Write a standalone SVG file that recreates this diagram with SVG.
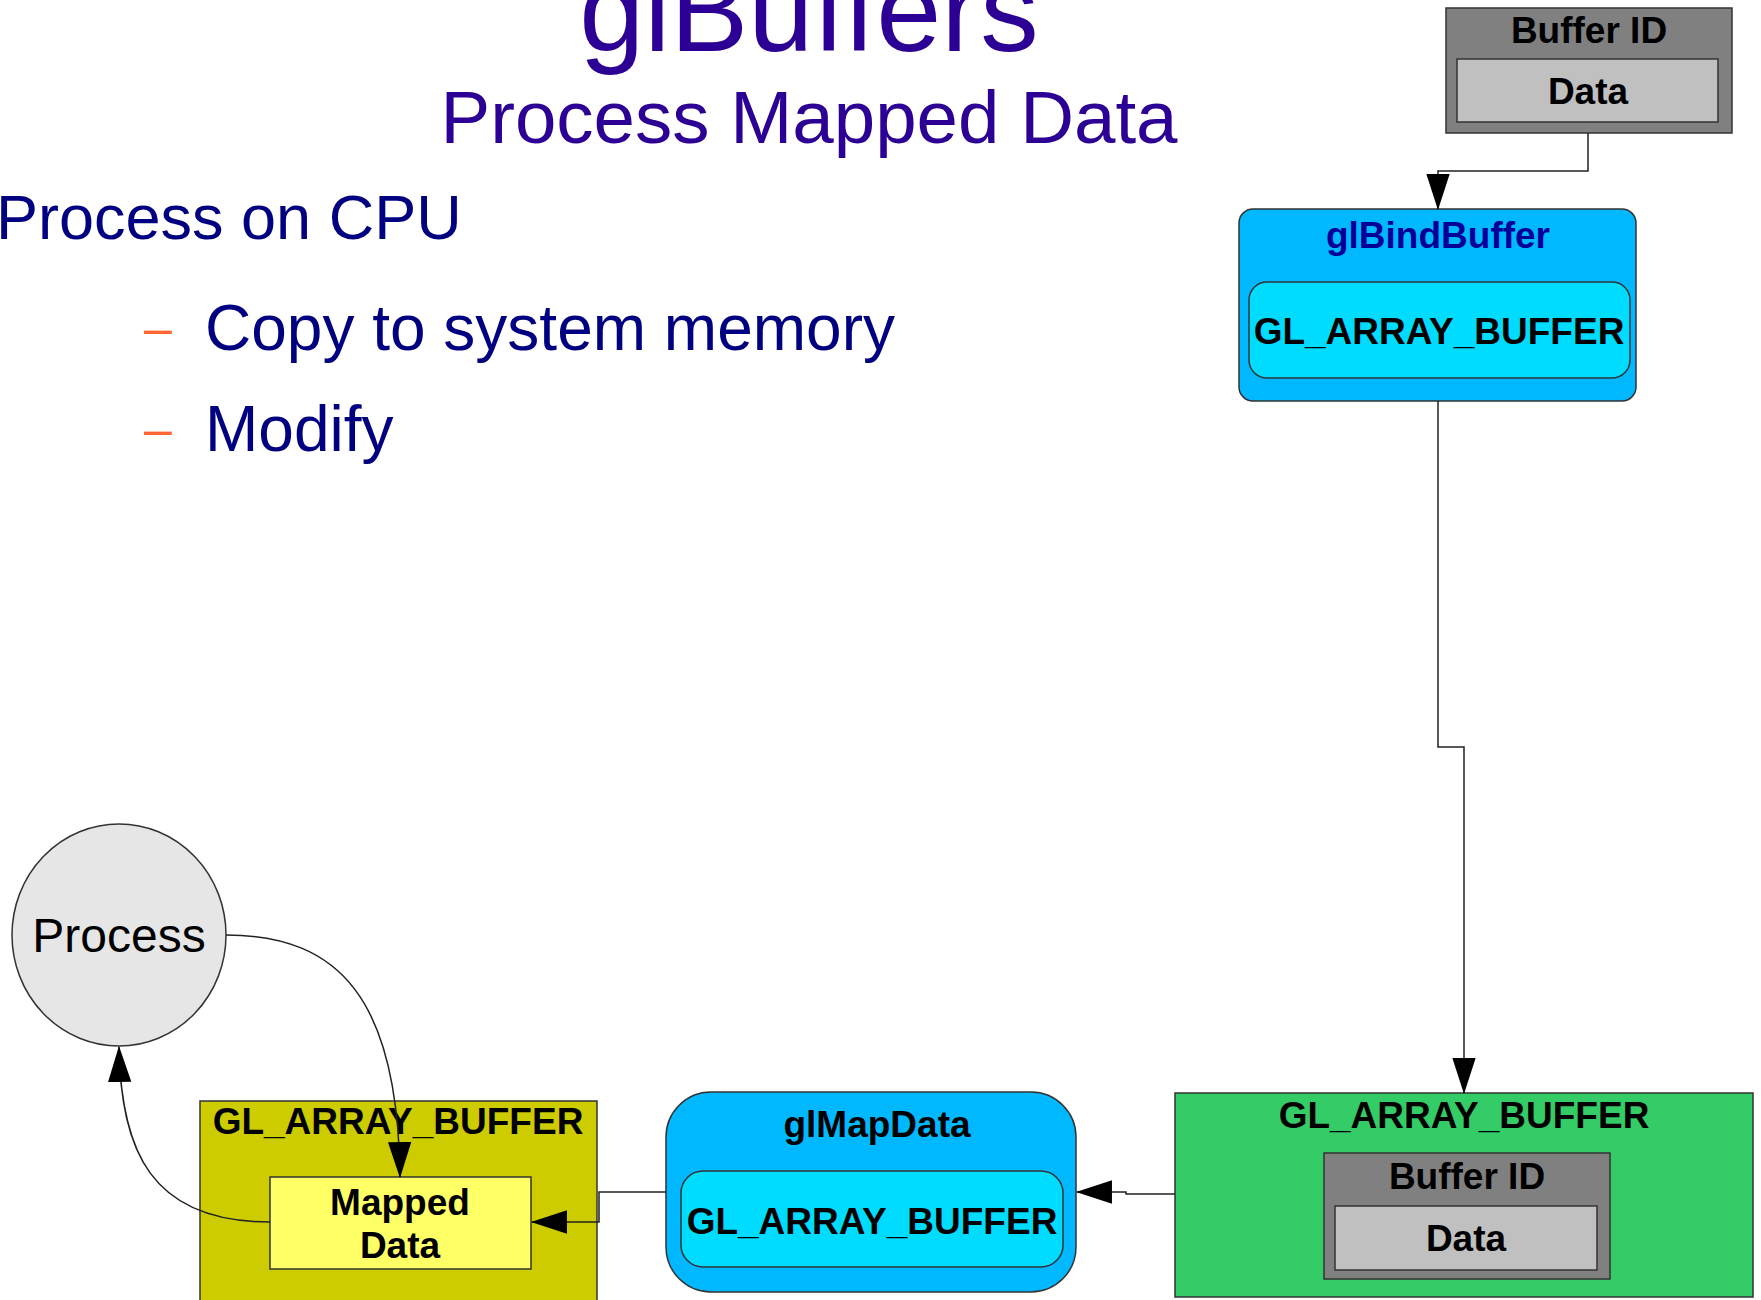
<svg xmlns="http://www.w3.org/2000/svg" width="1761" height="1300" viewBox="0 0 1761 1300">
  <style>
    .heading { font-family: "Liberation Sans", Arial, sans-serif; fill: #2D0095; text-anchor: middle; }
    .body { font-family: "Liberation Sans", Arial, sans-serif; fill: #000080; }
    .dash { font-family: "Liberation Sans", Arial, sans-serif; fill: #FF6633; font-size: 50px; }
    .lbl { font-family: "Liberation Sans", Arial, sans-serif; font-weight: bold; font-size: 37px; fill: #000; text-anchor: middle; }
    .box { stroke: #333; stroke-width: 1.5; }
    .grey-outer { fill: #808080; }
    .grey-inner { fill: #C0C0C0; }
    .call-outer { fill: #00B8FF; }
    .call-inner { fill: #00DCFF; }
    .conn { fill: none; stroke: #222; stroke-width: 1.5; }
  </style>
  <defs>
    <marker id="arrow" markerUnits="userSpaceOnUse" markerWidth="36" markerHeight="24" viewBox="0 0 34 22" refX="33" refY="11" orient="auto">
      <path d="M0,0 L34,11 L0,22 z" fill="#000"/>
    </marker>
  </defs>

  <rect width="1761" height="1300" fill="#fff"/>

  <!-- slide heading and bullet text -->
  <g id="heading">
    <text class="heading" x="809" y="51" font-size="117">glBuffers</text>
    <text class="heading" x="809" y="143" font-size="74.5">Process Mapped Data</text>
  </g>
  <g id="bullets">
    <text class="body" x="-4" y="239" font-size="63">Process on CPU</text>
    <text class="dash" x="144" y="345">–</text>
    <text class="body" x="205" y="350" font-size="64">Copy to system memory</text>
    <text class="dash" x="144" y="446">–</text>
    <text class="body" x="205" y="451" font-size="64">Modify</text>
  </g>

  <!-- buffer object (unbound) -->
  <g id="buffer-top">
    <rect class="box grey-outer" x="1446" y="8" width="286" height="125"/>
    <text class="lbl" x="1589" y="43">Buffer ID</text>
    <rect class="box grey-inner" x="1457" y="59" width="261" height="63"/>
    <text class="lbl" x="1588" y="104">Data</text>
  </g>

  <!-- glBindBuffer call -->
  <g id="bind-buffer">
    <rect class="box call-outer" x="1239" y="209" width="397" height="192" rx="14"/>
    <text class="lbl" x="1438" y="248" style="fill:#000099">glBindBuffer</text>
    <rect class="box call-inner" x="1249" y="282" width="381" height="96" rx="18"/>
    <text class="lbl" x="1439" y="344">GL_ARRAY_BUFFER</text>
  </g>

  <!-- bound target holding the buffer -->
  <g id="bound-target">
    <rect class="box" x="1175" y="1093" width="578" height="204" fill="#33CC66"/>
    <text class="lbl" x="1464" y="1128">GL_ARRAY_BUFFER</text>
    <rect class="box grey-outer" x="1324" y="1153" width="286" height="126"/>
    <text class="lbl" x="1467" y="1189">Buffer ID</text>
    <rect class="box grey-inner" x="1335" y="1206" width="262" height="64"/>
    <text class="lbl" x="1466" y="1251">Data</text>
  </g>

  <!-- glMapData call -->
  <g id="map-data">
    <rect class="box call-outer" x="666" y="1092" width="410" height="200" rx="45"/>
    <text class="lbl" x="877" y="1137">glMapData</text>
    <rect class="box call-inner" x="681" y="1171" width="382" height="96" rx="22"/>
    <text class="lbl" x="872" y="1234">GL_ARRAY_BUFFER</text>
  </g>

  <!-- mapped target -->
  <g id="mapped-target">
    <rect class="box" x="200" y="1101" width="397" height="220" fill="#CCCC00"/>
    <text class="lbl" x="398" y="1134">GL_ARRAY_BUFFER</text>
    <rect class="box" x="270" y="1177" width="261" height="92" fill="#FFFF66"/>
    <text class="lbl" x="400" y="1215">Mapped</text>
    <text class="lbl" x="400" y="1258">Data</text>
  </g>

  <!-- CPU process -->
  <g id="process">
    <ellipse class="box" cx="119" cy="935" rx="107" ry="111" fill="#E6E6E6"/>
    <text x="119" y="952" font-family="Liberation Sans, Arial, sans-serif" font-size="48" text-anchor="middle" fill="#000">Process</text>
  </g>

  <!-- connectors, drawn above the boxes -->
  <g id="connectors">
    <path class="conn" d="M1588 133 V171 H1438 V209" marker-end="url(#arrow)"/>
    <path class="conn" d="M1438 401 V747 H1464 V1093" marker-end="url(#arrow)"/>
    <path class="conn" d="M1175 1194 H1126 V1192 H1077" marker-end="url(#arrow)"/>
    <path class="conn" d="M666 1192 H599 V1222 H532" marker-end="url(#arrow)"/>
    <path class="conn" d="M270 1222 C150 1222 121 1150 119 1047" marker-end="url(#arrow)"/>
    <path class="conn" d="M226 935 C340 935 398 1000 400 1177" marker-end="url(#arrow)"/>
  </g>
</svg>
